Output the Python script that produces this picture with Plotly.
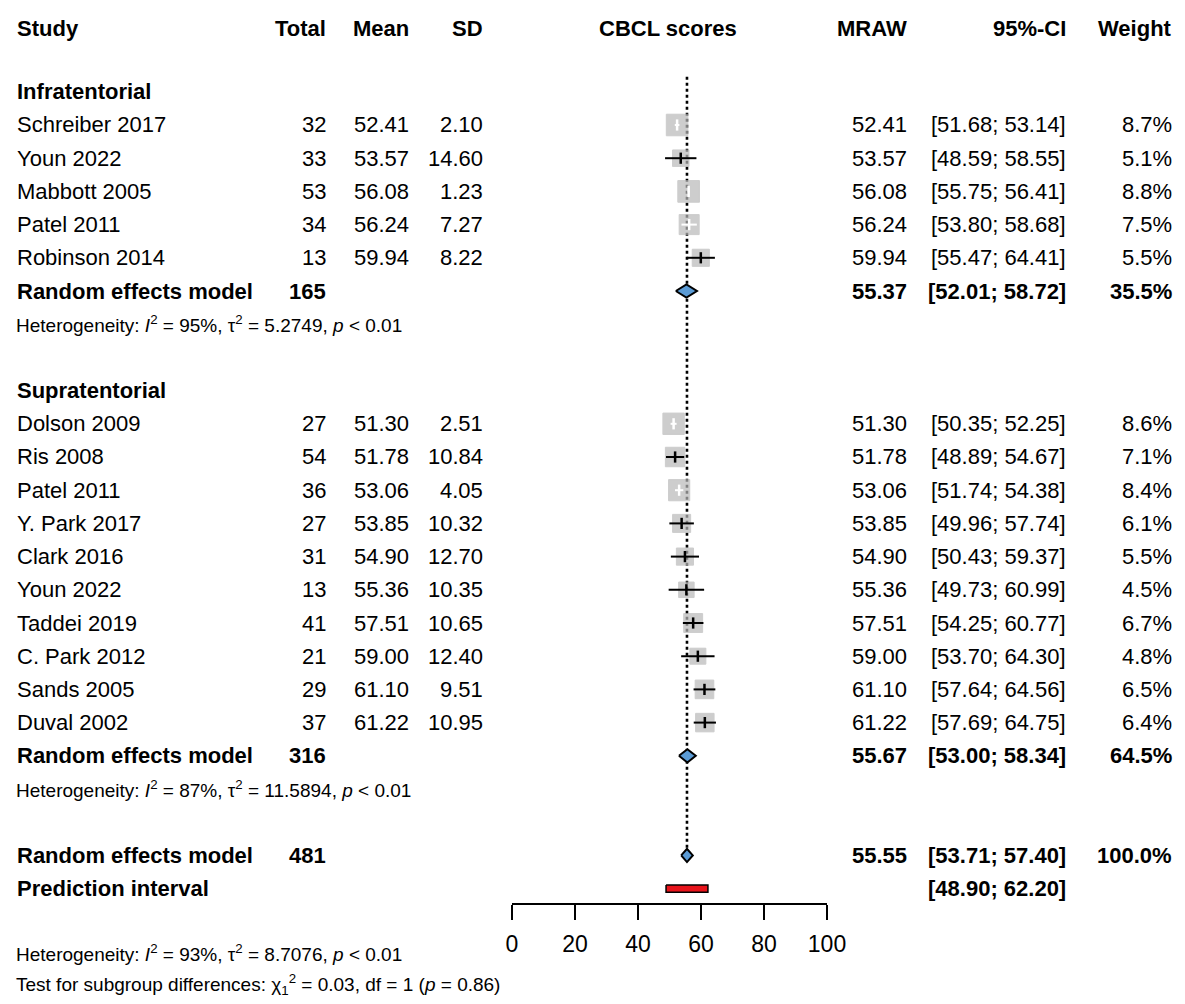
import plotly.graph_objects as go

# ---------------- data ----------------
infra_study = ["Schreiber 2017", "Youn 2022", "Mabbott 2005", "Patel 2011", "Robinson 2014"]
infra_total = [32, 33, 53, 34, 13]
infra_mean = [52.41, 53.57, 56.08, 56.24, 59.94]
infra_sd = [2.10, 14.60, 1.23, 7.27, 8.22]
infra_lo = [51.68, 48.59, 55.75, 53.80, 55.47]
infra_hi = [53.14, 58.55, 56.41, 58.68, 64.41]
infra_w = [8.7, 5.1, 8.8, 7.5, 5.5]

supra_study = ["Dolson 2009", "Ris 2008", "Patel 2011", "Y. Park 2017", "Clark 2016",
               "Youn 2022", "Taddei 2019", "C. Park 2012", "Sands 2005", "Duval 2002"]
supra_total = [27, 54, 36, 27, 31, 13, 41, 21, 29, 37]
supra_mean = [51.30, 51.78, 53.06, 53.85, 54.90, 55.36, 57.51, 59.00, 61.10, 61.22]
supra_sd = [2.51, 10.84, 4.05, 10.32, 12.70, 10.35, 10.65, 12.40, 9.51, 10.95]
supra_lo = [50.35, 48.89, 51.74, 49.96, 50.43, 49.73, 54.25, 53.70, 57.64, 57.69]
supra_hi = [52.25, 54.67, 54.38, 57.74, 59.37, 60.99, 60.77, 64.30, 64.56, 64.75]
supra_w = [8.6, 7.1, 8.4, 6.1, 5.5, 4.5, 6.7, 4.8, 6.5, 6.4]

group_names = ["Infratentorial", "Supratentorial"]
pooled_total = [165, 316, 481]
pooled_est = [55.37, 55.67, 55.55]
pooled_lo = [52.01, 53.00, 53.71]
pooled_hi = [58.72, 58.34, 57.40]
pooled_w = [35.5, 64.5, 100.0]
pred_lo, pred_hi = 48.90, 62.20

het_texts = [
    "Heterogeneity: <i>I</i><sup>2</sup> = 95%, τ<sup>2</sup> = 5.2749, <i>p</i> &lt; 0.01",
    "Heterogeneity: <i>I</i><sup>2</sup> = 87%, τ<sup>2</sup> = 11.5894, <i>p</i> &lt; 0.01",
    "Heterogeneity: <i>I</i><sup>2</sup> = 93%, τ<sup>2</sup> = 8.7076, <i>p</i> &lt; 0.01",
]
subgroup_text = ("Test for subgroup differences: χ<sub>1</sub><sup>2</sup> = 0.03, "
                 "df = 1 (<i>p</i> = 0.86)")

x_ticks = [0, 20, 40, 60, 80, 100]
headers = ["Study", "Total", "Mean", "SD", "CBCL scores", "MRAW", "95%-CI", "Weight"]

# ---------------- layout constants ----------------
W, H = 1185, 1004
PL, PR = 512, 827            # pixel extent of the 0..100 axis
AXIS_Y = 903                 # pixel of axis line
ROW0, ROWH = 125, 33.2       # pixel of first study row, row height
FONT = "Liberation Sans, Arial, sans-serif"
TXT = 22
HDR = 22
SMALL = 19

def xp(px):
    return (px - PL) / (PR - PL)

def yp(row):
    # row index -> paper y (plot area spans pixel 0..AXIS_Y)
    pix = ROW0 + ROWH * row
    return (AXIS_Y - pix) / AXIS_Y

# row positions
rows_infra = [0, 1, 2, 3, 4]
rows_supra = [9, 10, 11, 12, 13, 14, 15, 16, 17, 18]
group_rows = [-1, 8]
pooled_rows = [5, 19, 22]
het_rows = [6, 20, 24.95]
pred_row = 23
test_row = 25.9
hdr_row = -2.92

# column right edges (pixels)
C_STUDY = 15
C_TOTAL = 328
C_MEAN = 411
C_SD = 485
C_MRAW = 909
C_CI = 1068
C_W = 1174

fig = go.Figure()

study_mean = infra_mean + supra_mean
study_lo = infra_lo + supra_lo
study_hi = infra_hi + supra_hi
study_w = infra_w + supra_w
study_rows = rows_infra + rows_supra

K = 7.3
px_per_unit = (PR - PL) / 100.0
sizes = [K * (w ** 0.5) for w in study_w]
inside = [(h - l) * px_per_unit < 0.92 * s for l, h, s in zip(study_lo, study_hi, sizes)]

# reference line
fig.add_trace(go.Scatter(x=[pooled_est[2], pooled_est[2]], y=[-1.45, 21.8], mode="lines",
                         line=dict(color="black", width=2.6, dash="dot"), hoverinfo="skip"))

# squares
fig.add_trace(go.Scatter(x=study_mean, y=study_rows, mode="markers",
                         marker=dict(symbol="square", size=sizes, color="#B8B8B8",
                                     line=dict(color="#B8B8B8", width=1)),
                         hoverinfo="skip"))

# CI lines
for flag, col in [(False, "black"), (True, "white")]:
    xs, ys = [], []
    for l, h, r, f in zip(study_lo, study_hi, study_rows, inside):
        if f == flag:
            xs += [l, h, None]
            ys += [r, r, None]
    fig.add_trace(go.Scatter(x=xs, y=ys, mode="lines", line=dict(color=col, width=2),
                             hoverinfo="skip"))

# estimate ticks
fig.add_trace(go.Scatter(x=study_mean, y=study_rows, mode="markers",
                         marker=dict(symbol="line-ns", size=8,
                                     line=dict(color=["white" if f else "black" for f in inside],
                                               width=2.5)),
                         hoverinfo="skip"))

# diamonds
dh = 0.2
dx, dy = [], []
for e, l, h, r in zip(pooled_est, pooled_lo, pooled_hi, pooled_rows):
    dx += [l, e, h, e, l, None]
    dy += [r, r - dh, r, r + dh, r, None]
fig.add_trace(go.Scatter(x=dx, y=dy, mode="lines", fill="toself", fillcolor="#5B9BD5",
                         line=dict(color="black", width=2), hoverinfo="skip"))

# prediction interval
ph = 0.11
fig.add_trace(go.Scatter(x=[pred_lo, pred_hi, pred_hi, pred_lo, pred_lo],
                         y=[pred_row - ph, pred_row - ph, pred_row + ph, pred_row + ph, pred_row - ph],
                         mode="lines", fill="toself", fillcolor="#E8141B",
                         line=dict(color="black", width=1.5), hoverinfo="skip"))

ann = []

def add(text, px, row, anchor="left", size=TXT, bold=False):
    if bold:
        text = "<b>" + text + "</b>"
    ann.append(dict(text=text, x=xp(px), xref="paper", y=yp(row), yref="paper",
                    xanchor=anchor, yanchor="middle", showarrow=False,
                    font=dict(family=FONT, size=size, color="black")))

# headers
hdr_pos = [(C_STUDY, "left"), (C_TOTAL, "right"), (C_MEAN, "right"), (C_SD, "right"),
           (668, "center"), (C_MRAW, "right"), (C_CI, "right"), (C_W, "right")]
for t, (px, a) in zip(headers, hdr_pos):
    add(t, px, hdr_row, a, size=HDR, bold=True)

# group labels
for g, r in zip(group_names, group_rows):
    add(g, C_STUDY, r, bold=True)

# study rows
def study_block(names, tot, mean, sd, lo, hi, w, rows):
    for n, t, m, s, l, h, ww, r in zip(names, tot, mean, sd, lo, hi, w, rows):
        add(n, C_STUDY, r)
        add(str(t), C_TOTAL, r, "right")
        add(f"{m:.2f}", C_MEAN, r, "right")
        add(f"{s:.2f}", C_SD, r, "right")
        add(f"{m:.2f}", C_MRAW, r, "right")
        add(f"[{l:.2f}; {h:.2f}]", C_CI, r, "right")
        add(f"{ww:.1f}%", C_W, r, "right")

study_block(infra_study, infra_total, infra_mean, infra_sd, infra_lo, infra_hi, infra_w, rows_infra)
study_block(supra_study, supra_total, supra_mean, supra_sd, supra_lo, supra_hi, supra_w, rows_supra)

# pooled rows
for t, e, l, h, w, r in zip(pooled_total, pooled_est, pooled_lo, pooled_hi, pooled_w, pooled_rows):
    add("Random effects model", C_STUDY, r, bold=True)
    add(str(t), C_TOTAL, r, "right", bold=True)
    add(f"{e:.2f}", C_MRAW, r, "right", bold=True)
    add(f"[{l:.2f}; {h:.2f}]", C_CI, r, "right", bold=True)
    add(f"{w:.1f}%", C_W, r, "right", bold=True)

add("Prediction interval", C_STUDY, pred_row, bold=True)
add(f"[{pred_lo:.2f}; {pred_hi:.2f}]", C_CI, pred_row, "right", bold=True)

for t, r in zip(het_texts, het_rows):
    add(t, 14, r, size=SMALL)
add(subgroup_text, 14, test_row, size=SMALL)

y_top = (0 - ROW0) / ROWH
y_bot = (AXIS_Y - ROW0) / ROWH

fig.update_layout(
    width=W, height=H,
    margin=dict(l=PL, r=W - PR, t=0, b=H - AXIS_Y, pad=0),
    paper_bgcolor="white", plot_bgcolor="white",
    showlegend=False, hovermode=False,
    annotations=ann,
    xaxis=dict(range=[0, 100], tickvals=x_ticks, ticktext=[str(v) for v in x_ticks],
               showline=True, linecolor="black", linewidth=2,
               ticks="outside", ticklen=15, tickwidth=2, tickcolor="black",
               ticklabelstandoff=4,
               tickfont=dict(family=FONT, size=23, color="black"),
               showgrid=False, zeroline=False, fixedrange=True),
    yaxis=dict(range=[y_bot, y_top], visible=False, fixedrange=True),
)

fig.write_html("out.html", post_script="document.body.style.margin='0';",
               config={"displayModeBar": False})
